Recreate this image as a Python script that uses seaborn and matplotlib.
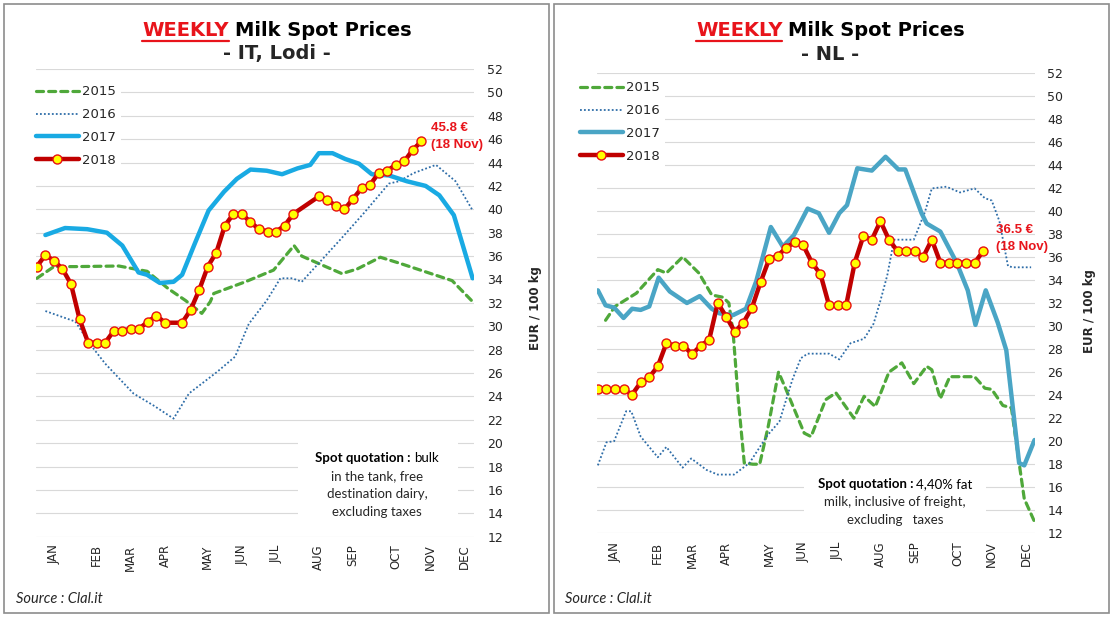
import matplotlib
matplotlib.use('Agg')
import matplotlib.pyplot as plt
import seaborn as sns
from matplotlib.lines import Line2D
from matplotlib.patches import Rectangle
from matplotlib.transforms import IdentityTransform

# --------------------------------------------------------------------------------
# data (x = week index of the year, 0 = first week of Jan)
months = ['JAN', 'FEB', 'MAR', 'APR', 'MAY', 'JUN', 'JUL', 'AUG', 'SEP', 'OCT', 'NOV', 'DEC']
month_weeks = [2, 7, 11, 15, 20, 24, 28, 33, 37, 42, 46, 50]

# IT, Lodi
it_2015_w = [0, 2, 4.5, 9.6, 12.9, 15.4, 17.4, 19.3, 20.3, 20.7, 24.4, 27.7, 30.1, 31, 33.8, 35.7, 37.5, 40.2, 42.4, 45.3, 48.6, 51]
it_2015_v = [34.1, 35.1, 35.1, 35.15, 34.7, 33.2, 32.2, 31.1, 32.1, 32.8, 33.8, 34.8, 36.9, 36.0, 35.1, 34.5, 34.9, 35.9, 35.4, 34.7, 33.9, 32.1]

it_2016_w = [1, 4.5, 6.4, 8, 11.3, 13.7, 16, 17.8, 21.1, 23.2, 24.8, 26.9, 28.5, 29.9, 31, 33, 35.5, 38.3, 41.2, 42.4, 44.1, 46.7, 49, 51]
it_2016_v = [31.3, 30.4, 28.3, 26.8, 24.25, 23.2, 22.1, 24.25, 26.1, 27.4, 30.2, 32.2, 34.1, 34.1, 33.8, 35.4, 37.4, 39.7, 42.2, 42.4, 43.1, 43.8, 42.4, 39.9]

it_2017_w = [1, 3.3, 5.9, 8.2, 10, 11.9, 12.9, 14.4, 16, 17, 18.5, 20.1, 21.9, 23.4, 25, 26.9, 28.7, 30.5, 32, 33, 34.6, 36.1, 37.7, 39.2, 41.2, 43.3, 45.5, 47.1, 48.8, 51]
it_2017_v = [37.8, 38.4, 38.3, 38.0, 36.9, 34.6, 34.4, 33.7, 33.8, 34.4, 37.1, 39.9, 41.5, 42.6, 43.4, 43.3, 43.0, 43.5, 43.8, 44.8, 44.8, 44.3, 43.9, 43.0, 42.9, 42.4, 42.0, 41.2, 39.5, 34.1]

it_2018_w = list(range(0, 16)) + list(range(17, 31)) + list(range(33, 46))
it_2018_v = [35.1, 36.1, 35.6, 34.9, 33.6, 30.6, 28.6, 28.6, 28.6, 29.6, 29.6, 29.8, 29.8, 30.4, 30.9, 30.3,
             30.3, 31.4, 33.1, 35.1, 36.3, 38.6, 39.6, 39.6, 38.9, 38.3, 38.1, 38.1, 38.6, 39.6,
             41.1, 40.8, 40.3, 40.0, 40.9, 41.8, 42.1, 43.1, 43.3, 43.8, 44.1, 45.1, 45.8]

# NL
nl_2015_w = [0.9, 2, 4.5, 7, 8, 9.9, 11.8, 13.3, 14.6, 15.3, 15.8, 16.4, 17.1, 18.1, 18.9, 19.9, 21.1, 22, 24.1, 24.9,
             26.6, 27.8, 29.9, 31.1, 32.4, 34, 35.5, 36.9, 38.4, 39, 40, 41.1, 42.3, 44, 45.2, 46, 47.3, 48.3, 49.2, 49.8, 51]
nl_2015_v = [30.5, 31.7, 32.85, 34.9, 34.6, 36.0, 34.6, 32.7, 32.5, 32.0, 29.4, 23.6, 18.1, 18.0, 18.0, 21.3, 26.0, 24.45, 20.7, 20.4,
             23.6, 24.2, 22.0, 23.9, 23.0, 26.0, 26.8, 25.0, 26.5, 26.2, 23.7, 25.6, 25.6, 25.6, 24.6, 24.5, 23.1, 22.9, 18.1, 15.0, 13.0]

nl_2016_w = [0, 1, 1.9, 3.3, 3.9, 5, 7, 8, 9.9, 10.9, 12.7, 14, 15.9, 17.7, 19.8, 21.2, 22.7, 23.7, 24.5, 27,
             28.2, 29.5, 31.1, 32.2, 33, 33.8, 34.6, 36.9, 38.2, 39, 40.7, 42.3, 44, 45.2, 46, 46.9, 47.9, 48.5, 50.6]
nl_2016_v = [17.9, 19.9, 20.0, 22.6, 22.6, 20.4, 18.6, 19.5, 17.7, 18.5, 17.5, 17.1, 17.1, 18.1, 20.5, 21.7, 25.3, 27.2, 27.6, 27.6,
             27.1, 28.5, 28.9, 30.2, 32.2, 34.4, 37.5, 37.5, 39.9, 41.95, 42.1, 41.6, 41.95, 41.1, 40.9, 39.1, 35.2, 35.1, 35.1]

nl_2017_w = [0, 0.9, 1.9, 3, 4, 5, 6, 7.1, 8.4, 10.4, 11.9, 13.3, 14.2, 15.8, 17.3, 18.5, 20.2, 21.6, 22.9, 24.5,
             25.8, 27, 28.2, 29.1, 30.3, 32, 33.6, 35.1, 35.9, 37.8, 38.4, 40, 41.9, 43.2, 44.1, 45.3, 46.7, 47.7, 49.2, 49.8, 51]
nl_2017_v = [33.1, 31.8, 31.6, 30.7, 31.5, 31.4, 31.7, 34.2, 33.0, 32.0, 32.6, 31.5, 31.1, 30.95, 31.5, 33.9, 38.6, 36.9, 37.9, 40.2,
             39.8, 38.1, 39.8, 40.5, 43.7, 43.5, 44.7, 43.6, 43.6, 39.8, 38.9, 38.2, 35.5, 33.1, 30.1, 33.1, 30.3, 27.9, 18.1, 17.9, 20.1]

nl_2018_w = list(range(0, 46))
nl_2018_v = [24.5, 24.5, 24.5, 24.5, 24.05, 25.1, 25.55, 26.5, 28.5, 28.3,
             28.3, 27.55, 28.3, 28.8, 32.0, 30.8, 29.5, 30.3, 31.6, 33.8,
             35.8, 36.1, 36.8, 37.3, 37.0, 35.5, 34.5, 31.8, 31.8, 31.8,
             35.5, 37.8, 37.5, 39.1, 37.5, 36.5, 36.5, 36.5, 36.0, 37.5,
             35.5, 35.5, 35.5, 35.5, 35.5, 36.5]

# --------------------------------------------------------------------------------
sns.set_style('white')
plt.rcParams['font.family'] = ['DejaVu Sans']

W, H = 1113, 620
fig = plt.figure(figsize=(W / 100, H / 100), dpi=100)


def fx(px):
    return px / W


def fy(py):
    return 1 - py / H


ax1 = fig.add_axes([fx(36), fy(536.7), (473.5 - 36) / W, (536.7 - 69) / H])
ax2 = fig.add_axes([fx(597), fy(533.3), (1035.4 - 597) / W, (533.3 - 72.7) / H])

green = '#4FA83A'
dotblue = '#2E6DA8'
darkred = '#C00000'


def draw_panel(ax, s15, s16, s17, s18, col17, pad_y, pad_x):
    sns.lineplot(x=s15[0], y=s15[1], ax=ax, color=green, lw=2.3, linestyle=(0, (2.2, 1.6)),
                 dash_capstyle='round', label='2015')
    sns.lineplot(x=s16[0], y=s16[1], ax=ax, color=dotblue, lw=1.3, linestyle=(0, (1, 1.2)), label='2016')
    sns.lineplot(x=s17[0], y=s17[1], ax=ax, color=col17, lw=3.2, solid_capstyle='round', label='2017')
    sns.lineplot(x=s18[0], y=s18[1], ax=ax, color=darkred, lw=3.2, marker='o', markersize=6.5,
                 markerfacecolor='#FFFF00', markeredgecolor='#E81010', markeredgewidth=1.0, label='2018')
    ax.set_xlim(-0.1, 51.1)
    ax.set_ylim(12, 52)
    ax.set_yticks(range(12, 53, 2))
    ax.set_xticks(month_weeks)
    ax.set_xticklabels(months, rotation=90, fontsize=8.5)
    ax.yaxis.tick_right()
    ax.tick_params(axis='y', length=0, pad=pad_y, labelsize=9)
    ax.tick_params(axis='x', length=0, pad=pad_x)
    ax.yaxis.grid(True, color='#D9D9D9', lw=0.8)
    ax.xaxis.grid(False)
    ax.set_axisbelow(True)
    ax.set_xlabel('')
    ax.set_ylabel('')
    for s in ax.spines.values():
        s.set_visible(False)
    ax.get_legend().remove()


draw_panel(ax1, (it_2015_w, it_2015_v), (it_2016_w, it_2016_v), (it_2017_w, it_2017_v), (it_2018_w, it_2018_v),
           '#19AAE3', 10, 5.5)
draw_panel(ax2, (nl_2015_w, nl_2015_v), (nl_2016_w, nl_2016_v), (nl_2017_w, nl_2017_v), (nl_2018_w, nl_2018_v),
           '#4AA5C5', 8.7, 6)

for ax, left, top in [(ax1, 31, 80), (ax2, 575, 76)]:
    h, l = ax.get_legend_handles_labels()
    leg = ax.legend(h, l, loc='upper left', bbox_to_anchor=(fx(left), fy(top)), bbox_transform=fig.transFigure,
                    fontsize=9.5, handlelength=3.2, handletextpad=0.25, labelspacing=0.75, borderpad=0.4,
                    borderaxespad=0, frameon=True, facecolor='white', edgecolor='none', framealpha=1, fancybox=False)
    leg.set_zorder(5)

# --------------------------------------------------------------------------------
# texts
r = fig.canvas.get_renderer()


def mixed_line(cx, cy, parts, size, family, gap=0):
    # parts: (text, weight, color, style)
    texts = []
    for t, w, c, st in parts:
        texts.append(fig.text(0, fy(cy), t, fontsize=size, fontweight=w, color=c, fontstyle=st,
                              family=family, ha='left', va='center'))
    widths = [t.get_window_extent(r).width for t in texts]
    total = sum(widths) + gap * (len(texts) - 1)
    x = cx - total / 2
    for t, wd in zip(texts, widths):
        t.set_x(fx(x))
        x += wd + gap
    return texts


title_font = ['DejaVu Sans']
for cx, sub in [(277, '- IT, Lodi -'), (830.5, '- NL -')]:
    tt = mixed_line(cx, 30, [('WEEKLY', 'bold', '#E8141B', 'normal'), ('Milk Spot Prices', 'bold', 'black', 'normal')],
                    14, title_font, gap=6)
    bb = tt[0].get_window_extent(r)
    fig.add_artist(Line2D([bb.x0, bb.x1], [fy(40.5) * H, fy(40.5) * H], color='#E8141B', lw=1.6,
                          transform=IdentityTransform()))
    fig.text(fx(cx), fy(54), sub, fontsize=14, fontweight='bold', ha='center', va='center', family=title_font)

# price labels
for x0, y0, txt in [(430.7, 127.7, '45.8 €'), (995.6, 230, '36.5 €')]:
    fig.text(fx(x0), fy(y0), txt, color='#E8141B', fontsize=9.5, fontweight='bold', family='Liberation Sans',
             ha='left', va='center')
    fig.text(fx(x0), fy(y0 + 17), '(18 Nov)', color='#E8141B', fontsize=9.5, fontweight='bold',
             family='Liberation Sans', ha='left', va='center')

# spot quotation boxes
fig.add_artist(Rectangle((fx(298), fy(530)), 160 / W, 88 / H, transform=fig.transFigure,
                         facecolor='white', edgecolor='none', zorder=1))
fig.add_artist(Rectangle((fx(804), fy(532)), 182 / W, 63 / H, transform=fig.transFigure,
                         facecolor='white', edgecolor='none', zorder=1))

body_font = ['Lato', 'DejaVu Sans']
mixed_line(377, 458, [('Spot quotation :', 'bold', 'black', 'normal'), ('bulk', 'normal', 'black', 'normal')],
           9.5, body_font, gap=3)
for i, line in enumerate(['in the tank, free', 'destination dairy,', 'excluding taxes']):
    fig.text(fx(377), fy(476 + 18 * i), line, fontsize=9.5, family=body_font, ha='center', va='center', zorder=2)

mixed_line(895, 484, [('Spot quotation :', 'bold', 'black', 'normal'), ('4,40% fat', 'normal', 'black', 'normal')],
           9.5, body_font, gap=3)
for i, line in enumerate(['milk, inclusive of freight,', 'excluding   taxes']):
    fig.text(fx(895), fy(502 + 18 * i), line, fontsize=9.5, family=body_font, ha='center', va='center', zorder=2)

# axis titles
for x0, y0 in [(535, 308), (1089, 311)]:
    fig.text(fx(x0), fy(y0), 'EUR / 100 kg', rotation=90, fontsize=8.5, fontweight='bold', ha='center', va='center')

# source
for x0 in [16, 565]:
    fig.text(fx(x0), fy(599), 'Source : Clal.it', fontsize=10.5, fontstyle='italic', family=body_font,
             ha='left', va='center')

# panel frames
for x0, x1 in [(3.5, 548.5), (553.6, 1108.5)]:
    fig.add_artist(Rectangle((fx(x0), fy(613)), (x1 - x0) / W, 609 / H, transform=fig.transFigure,
                             fill=False, edgecolor='#8C8C8C', lw=1.2))

fig.savefig('out.png', dpi=100)
